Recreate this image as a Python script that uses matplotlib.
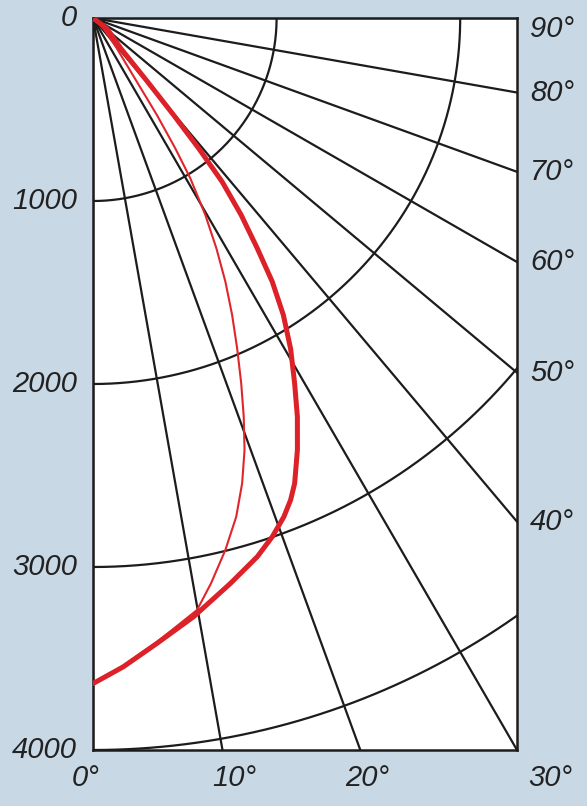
import numpy as np
import matplotlib
matplotlib.use('Agg')
import matplotlib.pyplot as plt
from matplotlib.transforms import blended_transform_factory

# luminous intensity (cd), angle from downward vertical
thick_angle = [0, 2.67, 5.82, 9.51, 13.62, 16.90, 19.01, 20.88, 22.23, 23.36, 25.25,
               27.06, 28.82, 30.76, 32.57, 34.12, 35.41, 36.86, 38.17, 38.94,
               39.63, 40.47, 42.37, 53, 90]
thick_cd = [3637, 3549, 3435, 3317, 3179, 3077, 2998, 2917, 2845, 2770, 2610,
            2447, 2278, 2105, 1926, 1741, 1544, 1345, 1138, 916,
            688, 457, 224, 94, 0]

thin_angle = [0, 2.67, 5.82, 9.94, 11.76, 13.93, 15.97, 17.72, 19.27, 20.65, 22.02,
              23.51, 25.03, 26.59, 28.10, 29.62, 31.18, 32.18, 33.29, 34.45, 38.03,
              45, 90]
thin_cd = [3632, 3543, 3428, 3284, 3155, 2995, 2835, 2669, 2501, 2328, 2153,
           1968, 1791, 1611, 1427, 1238, 1024, 841, 634, 422, 210,
           80, 0]

radii = [1000, 2000, 3000, 4000]
radial_labels = ['0', '1000', '2000', '3000', '4000']
ray_angles = [0, 10, 20, 30, 40, 50, 60, 70, 80, 90]
bottom_labels = ['0°', '10°', '20°', '30°']
side_angles = [40, 50, 60, 70, 80]

rmax = 4000
W = rmax * np.tan(np.radians(30))

bg = '#c9d8e5'
ink = '#1c1c1c'
fs = 21
font = dict(family='Liberation Sans', style='italic', size=fs, color='#222222')

fig = plt.figure(figsize=(5.87, 8.06), dpi=100, facecolor=bg)
ax = fig.add_axes([93 / 587, 56 / 806, 424 / 587, 732 / 806])
ax.set_facecolor('white')
ax.set_xlim(0, W)
ax.set_ylim(-rmax, 0)
ax.set_xticks([])
ax.set_yticks([])
for sp in ax.spines.values():
    sp.set_color(ink)
    sp.set_linewidth(1.8)

# rays
for a in ray_angles:
    t = np.radians(a)
    ax.plot([0, 9000 * np.sin(t)], [0, -9000 * np.cos(t)], color=ink, lw=1.6, zorder=1)

# circles
t = np.radians(np.linspace(0, 90, 400))
for r in radii:
    ax.plot(r * np.sin(t), -r * np.cos(t), color=ink, lw=1.6, zorder=1)

# curves
ta = np.radians(thin_angle)
ax.plot(np.array(thin_cd) * np.sin(ta), -np.array(thin_cd) * np.cos(ta),
        color='#e0262b', lw=1.5, zorder=3, solid_capstyle='round', solid_joinstyle='round')
ta = np.radians(thick_angle)
ax.plot(np.array(thick_cd) * np.sin(ta), -np.array(thick_cd) * np.cos(ta),
        color='#dc2128', lw=3.6, zorder=4, solid_capstyle='round', solid_joinstyle='round')

# radial labels on the left
tr = blended_transform_factory(fig.transFigure, ax.transData)
for i, lab in enumerate(radial_labels):
    fig.text(77 / 587, -i * 1000, lab, transform=tr, ha='right', va='center', **font)

# angle labels on the right
for a in side_angles:
    y = -W / np.tan(np.radians(a))
    fig.text(530 / 587, y, f'{a}°', transform=tr, ha='left', va='center', **font)
fig.text(530 / 587, -60, '90°', transform=tr, ha='left', va='center', **font)

# angle labels at the bottom
bottom_x = [72, 212, 345, 528]
for lab, x in zip(bottom_labels, bottom_x):
    fig.text(x / 587, 1 - 778 / 806, lab, ha='left', va='center', **font)

fig.savefig('out.png', dpi=100, facecolor=bg)
